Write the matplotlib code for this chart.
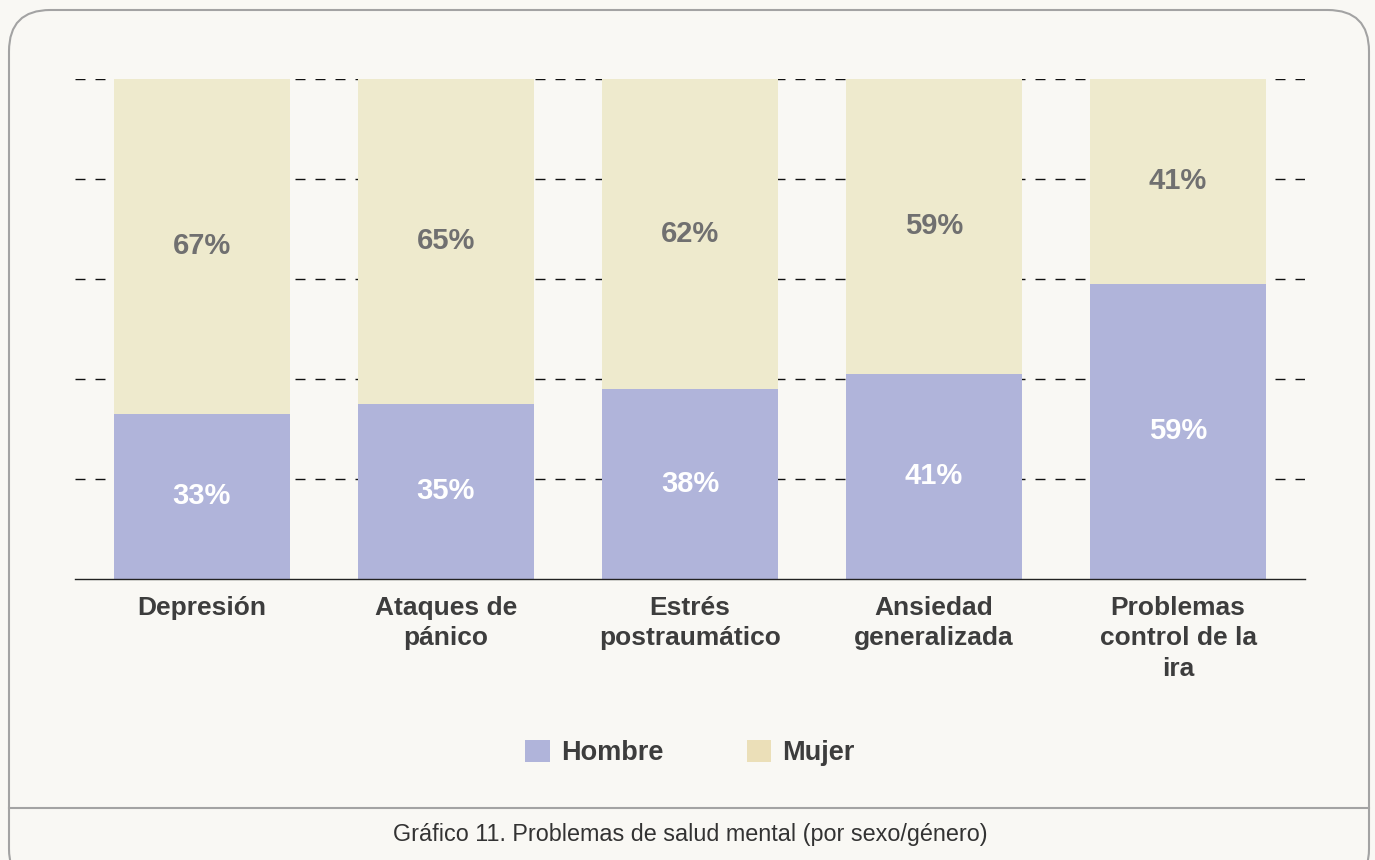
import matplotlib.pyplot as plt
from matplotlib.patches import FancyBboxPatch, Patch
from matplotlib.lines import Line2D

plt.rcParams['font.family'] = ['Liberation Sans', 'DejaVu Sans']

# datos
categorias = ['Depresión', 'Ataques de\npánico', 'Estrés\npostraumático',
              'Ansiedad\ngeneralizada', 'Problemas\ncontrol de la\nira']
hombre = [33, 35, 38, 41, 59]
mujer = [67, 65, 62, 59, 41]
etiquetas_y = [0, 20, 40, 60, 80, 100]

col_hombre = '#b0b4da'
col_mujer = '#eeeacd'
col_mujer_ley = '#ebdfb8'
fondo = '#f9f8f4'

W, H = 1375, 860
fig = plt.figure(figsize=(W / 100, H / 100), dpi=100)
fig.patch.set_facecolor(fondo)

# marco redondeado
marco = FancyBboxPatch((9 / W, -30 / H), 1360 / W, 880 / H,
                       boxstyle='round,pad=0,rounding_size=0.03',
                       transform=fig.transFigure, facecolor=fondo,
                       edgecolor='#a3a3a3', linewidth=1.5, mutation_aspect=W / H,
                       zorder=-1)
fig.patches.append(marco)
fig.add_artist(Line2D([9 / W, 1369 / W], [1 - 808 / H, 1 - 808 / H],
                      transform=fig.transFigure, color='#a3a3a3', linewidth=1.5))

ax = fig.add_axes([75 / W, 1 - 579 / H, 1230 / W, 500 / H])
ax.set_facecolor('none')

x = range(len(categorias))
ax.bar(x, hombre, width=0.72, color=col_hombre, zorder=3)
ax.bar(x, mujer, width=0.72, bottom=hombre, color=col_mujer, zorder=3)

for i in x:
    ax.text(i, hombre[i] / 2, f'{hombre[i]}%', ha='center', va='center',
            color='white', fontsize=21, fontweight='bold', zorder=4)
    ax.text(i, hombre[i] + mujer[i] / 2, f'{mujer[i]}%', ha='center', va='center',
            color='#707070', fontsize=21, fontweight='bold', zorder=4)

for v in etiquetas_y[1:]:
    ax.axhline(v, color='#111111', linewidth=1, linestyle=(0, (7.2, 7.2)), zorder=1)

ax.set_xlim(-0.52, 4.52)
ax.set_ylim(0, 100)
for s in ['top', 'right', 'left']:
    ax.spines[s].set_visible(False)
ax.spines['bottom'].set_color('#222222')
ax.spines['bottom'].set_linewidth(1)
ax.spines['bottom'].set_zorder(5)
ax.set_yticks([])
ax.set_xticks(list(x))
ax.set_xticklabels(categorias, fontsize=19, fontweight='bold', color='#3d3d3d',
                   linespacing=1.34)
ax.tick_params(axis='x', length=0, pad=12)

handles = [Patch(facecolor=col_hombre, label='Hombre'),
           Patch(facecolor=col_mujer_ley, label='Mujer')]
ley = fig.legend(handles=handles, loc='center', bbox_to_anchor=(690 / W, 1 - 753 / H),
                 ncol=2, frameon=False, handlelength=0.92, handleheight=0.92,
                 handletextpad=0.4, columnspacing=3.07,
                 prop={'size': 19.5, 'weight': 'bold'})
for t in ley.get_texts():
    t.set_color('#3d3d3d')

fig.text(690 / W, 1 - 835 / H, 'Gráfico 11. Problemas de salud mental (por sexo/género)',
         ha='center', va='center', fontsize=16.8, color='#333333')

fig.savefig('out.png', dpi=100, facecolor=fondo)
